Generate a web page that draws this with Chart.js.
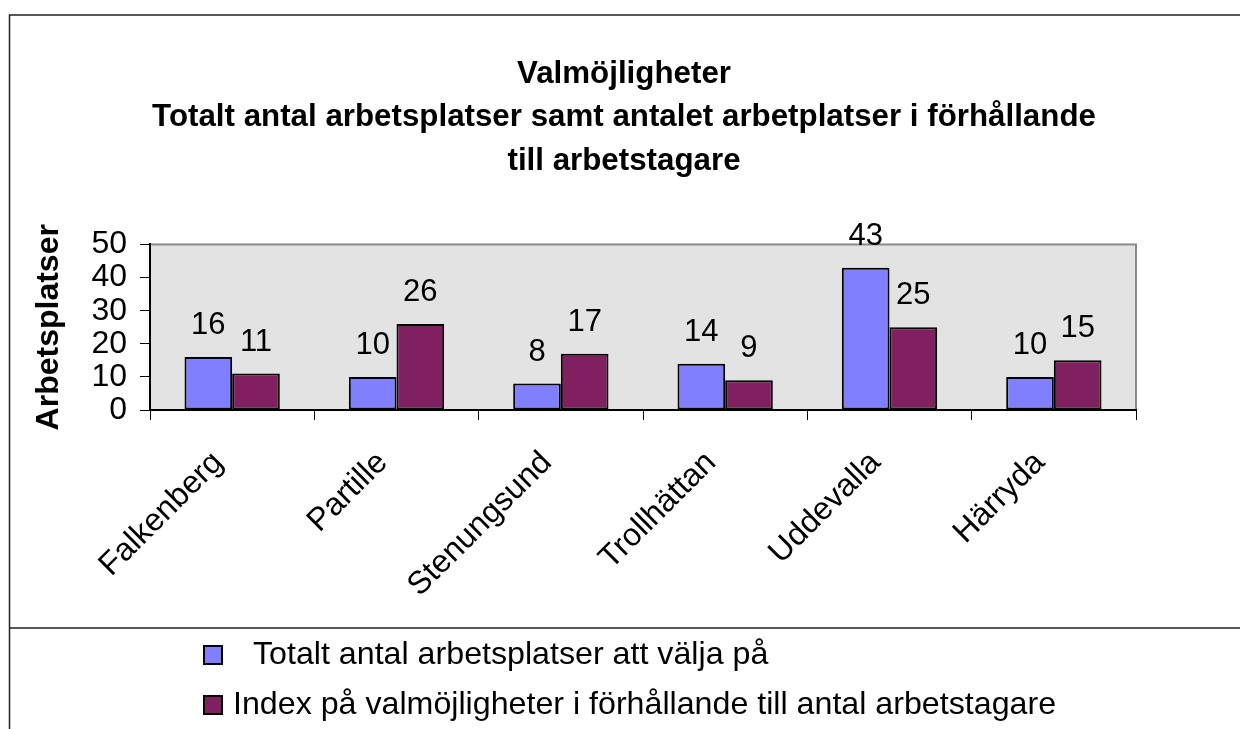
<!DOCTYPE html>
<html>
<head>
<meta charset="utf-8">
<script src="https://cdn.jsdelivr.net/npm/chart.js@4/dist/chart.umd.min.js"></script>
<style>
  body { margin: 0; background: #fff; }
  #wrap { position: relative; width: 1240px; height: 729px; overflow: hidden; }
  #chart { position: absolute; left: 0; top: 0; }
  .leg { position: absolute; font-family: 'Liberation Sans', Arial, sans-serif; font-size: 32.2px; line-height: 32px; color: #000; white-space: nowrap; }
  .box { position: absolute; width: 16px; height: 16px; border: 2px solid #000; }
</style>
</head>
<body>
<div id="wrap">
  <canvas id="chart" width="1240" height="729"></canvas>
  <div class="box" style="left:203px; top:645px; background:#8080FF"></div>
  <div class="leg" id="leg1" style="left:253px; top:637px"></div>
  <div class="box" style="left:203px; top:695px; background:#802060"></div>
  <div class="leg" id="leg2" style="left:233px; top:687px"></div>
</div>
<script>
// Data
const categories = ['Falkenberg', 'Partille', 'Stenungsund', 'Trollhättan', 'Uddevalla', 'Härryda'];
const totalJobs = [16, 10, 8, 14, 43, 10];
const choiceIndex = [11, 26, 17, 9, 25, 15];
const seriesNames = ['Totalt antal arbetsplatser att välja på', 'Index på valmöjligheter i förhållande till antal arbetstagare'];
const titleLines = ['Valmöjligheter', 'Totalt antal arbetsplatser samt antalet arbetplatser i förhållande', 'till arbetstagare'];
const yMin = 0, yMax = 50, yStep = 10;

const FONT = "'Liberation Sans', Arial, sans-serif";

document.getElementById('leg1').textContent = seriesNames[0];
document.getElementById('leg2').textContent = seriesNames[1];

// grey plot area, outer frame and the line above the legend
const framePlugin = {
  id: 'frame',
  beforeDraw(chart) {
    const { ctx, chartArea: a } = chart;
    ctx.save();
    ctx.fillStyle = '#fff';
    ctx.fillRect(0, 0, chart.width, chart.height);
    ctx.fillStyle = '#E3E3E3';
    ctx.fillRect(a.left, a.top, a.right - a.left, a.bottom - a.top);
    ctx.strokeStyle = '#8a8a8a';
    ctx.lineWidth = 2;
    ctx.strokeRect(a.left, a.top, a.right - a.left, a.bottom - a.top);
    ctx.strokeStyle = '#222';
    ctx.lineWidth = 1.5;
    ctx.beginPath();
    ctx.moveTo(9.5, chart.height);
    ctx.lineTo(9.5, 15);
    ctx.lineTo(chart.width, 15);
    ctx.moveTo(9.5, 628);
    ctx.lineTo(chart.width, 628);
    ctx.stroke();
    ctx.restore();
  }
};

// value labels above each bar
const valueLabels = {
  id: 'valueLabels',
  afterDatasetsDraw(chart) {
    const ctx = chart.ctx;
    ctx.save();
    ctx.font = '31px ' + FONT;
    ctx.fillStyle = '#000';
    ctx.textAlign = 'center';
    ctx.textBaseline = 'alphabetic';
    chart.data.datasets.forEach((ds, i) => {
      chart.getDatasetMeta(i).data.forEach((bar, j) => {
        ctx.fillText(String(ds.data[j]), bar.x, bar.y - 23);
      });
    });
    ctx.restore();
  }
};

new Chart(document.getElementById('chart'), {
  type: 'bar',
  data: {
    labels: categories,
    datasets: [
      {
        label: seriesNames[0],
        data: totalJobs,
        backgroundColor: '#8080FF',
        borderColor: '#000',
        borderWidth: 2,
        borderSkipped: false
      },
      {
        label: seriesNames[1],
        data: choiceIndex,
        backgroundColor: '#802060',
        borderColor: '#000',
        borderWidth: 2,
        borderSkipped: false
      }
    ]
  },
  options: {
    responsive: false,
    animation: false,
    devicePixelRatio: 1,
    layout: { padding: { left: 8, top: 0, right: 0, bottom: 0 } },
    datasets: { bar: { categoryPercentage: 0.58, barPercentage: 1 } },
    plugins: {
      legend: { display: false },
      tooltip: { enabled: false },
      title: {
        display: true,
        text: titleLines,
        color: '#000',
        font: { family: FONT, size: 31.3, weight: 'bold', lineHeight: 1.4 },
        padding: { top: 52, bottom: 61 }
      }
    },
    scales: {
      x: {
        grid: { offset: true, drawOnChartArea: false, tickLength: 10, color: '#000', lineWidth: 1 },
        border: { color: '#000', width: 2 },
        ticks: {
          color: '#000',
          font: { family: FONT, size: 32 },
          minRotation: 45,
          maxRotation: 45,
          autoSkip: false,
          labelOffset: -14,
          padding: 24
        },
        afterFit(scale) { scale.height = 729 - 410; }
      },
      y: {
        min: yMin,
        max: yMax,
        grid: { drawOnChartArea: false, tickLength: 10, color: '#000' },
        border: { color: '#000', width: 2 },
        ticks: { stepSize: yStep, autoSkip: false, color: '#000', font: { family: FONT, size: 32, lineHeight: 1 }, padding: 13 },
        title: {
          display: true,
          text: 'Arbetsplatser',
          color: '#000',
          font: { family: FONT, size: 32, weight: 'bold', lineHeight: 1.2 },
          padding: { top: 22, bottom: 0 }
        },
        afterFit(scale) { scale.width = 142; }
      },
      spacer: {
        type: 'linear',
        position: 'right',
        grid: { display: false },
        border: { display: false },
        ticks: { display: false },
        afterFit(scale) { scale.width = 104; }
      }
    }
  },
  plugins: [framePlugin, valueLabels]
});
</script>
</body>
</html>
